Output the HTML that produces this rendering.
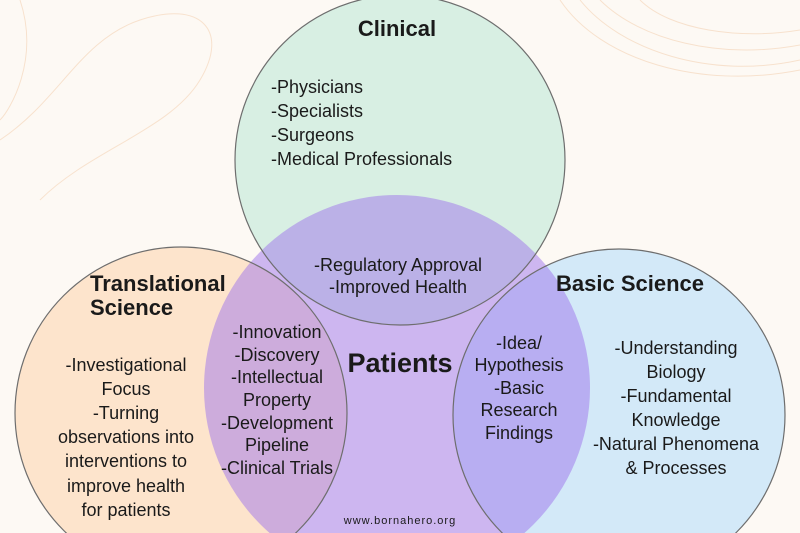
<!DOCTYPE html>
<html><head><meta charset="utf-8"><style>
html,body{margin:0;padding:0;background:#fdf9f4;overflow:hidden}
svg{display:block}
text{font-family:"Liberation Sans",sans-serif;fill:#1a1a1a}
.t{font-size:18px}
.h{font-size:22px;font-weight:bold}
</style></head><body>
<svg width="800" height="533" viewBox="0 0 800 533">
<rect width="800" height="533" fill="#fdf9f4"/>
<g fill="none" stroke="#f6dcc4" stroke-width="1" opacity="0.8">
<path d="M0 140 C60 100 80 40 140 20 C200 0 230 30 200 80 C170 130 90 150 40 200"/>
<path d="M20 0 C40 60 10 110 0 120"/>
<path d="M560 0 C600 60 700 90 800 70"/><path d="M580 0 C620 50 710 80 800 60"/><path d="M600 0 C640 40 720 60 800 45"/><path d="M640 0 C670 30 740 40 800 30"/>
</g>
<circle cx="400" cy="160" r="165" fill="#d8efe3"/>
<circle cx="181" cy="413" r="166" fill="#fde4cc"/>
<circle cx="619" cy="415" r="166" fill="#d3e9f8"/>
<circle cx="397" cy="388" r="193" fill="#9d73ec" fill-opacity="0.5"/>
<g fill="none" stroke="#6e6e6e" stroke-width="1.2">
<circle cx="400" cy="160" r="165"/>
<circle cx="181" cy="413" r="166"/>
<circle cx="619" cy="415" r="166"/>
</g>
<text class="h" x="397" y="36" text-anchor="middle">Clinical</text>
<g class="t">
<text x="271" y="93">-Physicians</text>
<text x="271" y="117">-Specialists</text>
<text x="271" y="141">-Surgeons</text>
<text x="271" y="165">-Medical Professionals</text>
</g>
<g class="t" text-anchor="middle">
<text x="398" y="271">-Regulatory Approval</text>
<text x="398" y="293">-Improved Health</text>
</g>
<text class="h" x="90" y="291">Translational</text>
<text class="h" x="90" y="315">Science</text>
<g class="t" text-anchor="middle">
<text x="126" y="371">-Investigational</text>
<text x="126" y="395">Focus</text>
<text x="126" y="419">-Turning</text>
<text x="126" y="443">observations into</text>
<text x="126" y="467">interventions to</text>
<text x="126" y="492">improve health</text>
<text x="126" y="516">for patients</text>
</g>
<g class="t" text-anchor="middle">
<text x="277" y="338">-Innovation</text>
<text x="277" y="361">-Discovery</text>
<text x="277" y="383">-Intellectual</text>
<text x="277" y="406">Property</text>
<text x="277" y="429">-Development</text>
<text x="277" y="451">Pipeline</text>
<text x="277" y="474">-Clinical Trials</text>
</g>
<text x="400" y="372" text-anchor="middle" style="font-size:27px;font-weight:bold">Patients</text>
<g class="t" text-anchor="middle">
<text x="519" y="349">-Idea/</text>
<text x="519" y="371">Hypothesis</text>
<text x="519" y="394">-Basic</text>
<text x="519" y="416">Research</text>
<text x="519" y="439">Findings</text>
</g>
<text class="h" x="556" y="291">Basic Science</text>
<g class="t" text-anchor="middle">
<text x="676" y="354">-Understanding</text>
<text x="676" y="378">Biology</text>
<text x="676" y="402">-Fundamental</text>
<text x="676" y="426">Knowledge</text>
<text x="676" y="450">-Natural Phenomena</text>
<text x="676" y="474">&amp; Processes</text>
</g>
<text x="400" y="524" text-anchor="middle" style="font-size:11px;letter-spacing:1px">www.bornahero.org</text>
</svg>
</body></html>
